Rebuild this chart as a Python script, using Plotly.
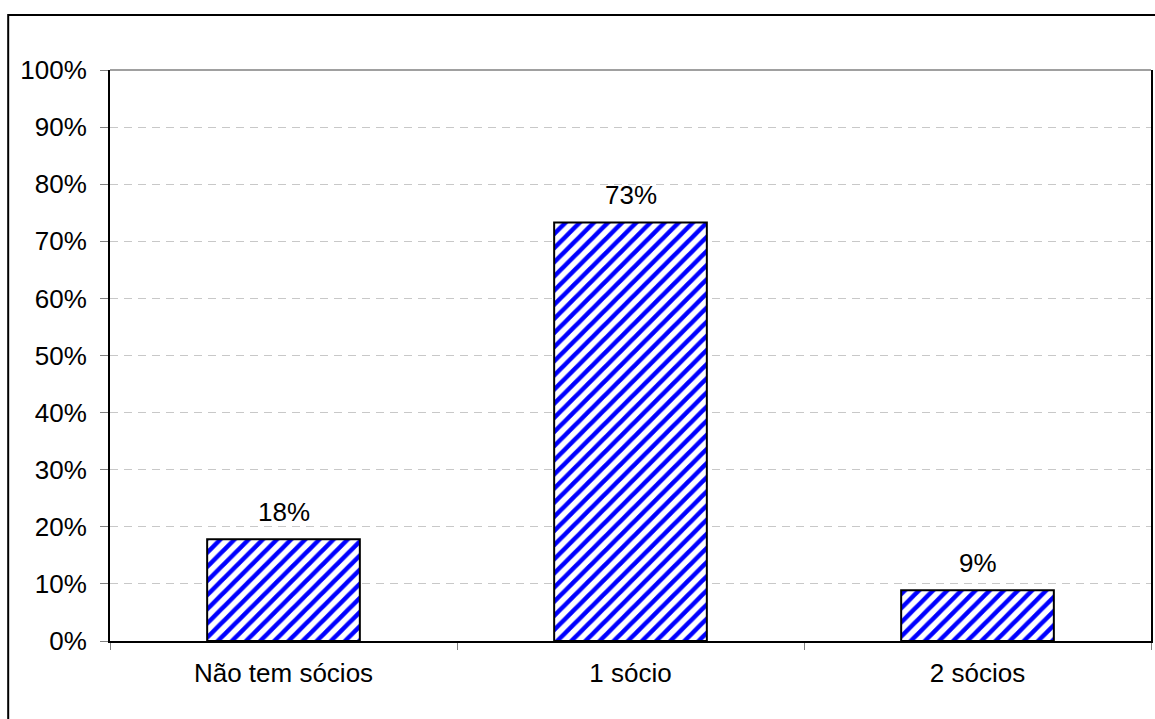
import plotly.graph_objects as go

categories = ["Não tem sócios", "1 sócio", "2 sócios"]
values = [17.8, 73.3, 8.9]
labels = [f"{round(v)}%" for v in values]
y_ticks = list(range(0, 101, 10))
y_ticktext = [f"{t}%" for t in y_ticks]

FONT = "Liberation Sans, Arial, sans-serif"
FS = 26

fig = go.Figure()
fig.add_trace(go.Bar(
    x=categories, y=values, width=0.44,
    marker=dict(
        color="white",
        line=dict(color="black", width=2),
        pattern=dict(shape="/", fgcolor="#0000ff", bgcolor="white", fgopacity=1,
                     size=10, solidity=0.45),
    ),
    hoverinfo="skip",
))

for c, v, t in zip(categories, values, labels):
    fig.add_annotation(x=c, y=v, text=t, showarrow=False, yanchor="bottom",
                       yshift=10, font=dict(family=FONT, size=FS, color="black"))

# outer frame
fig.add_shape(type="rect", xref="paper", yref="paper",
              x0=(8 - 110) / 1043, x1=(1170 - 110) / 1043,
              y0=(641 - 730) / 571, y1=(641 - 15) / 571,
              line=dict(color="black", width=2), layer="below")
# top border of plot area (gray)
fig.add_shape(type="line", xref="paper", yref="paper", x0=0, x1=1, y0=1, y1=1,
              line=dict(color="#a0a0a0", width=2))

fig.update_layout(
    width=1155, height=719,
    margin=dict(l=110, r=2, t=70, b=78),
    paper_bgcolor="white", plot_bgcolor="white",
    showlegend=False,
    font=dict(family=FONT, size=FS, color="black"),
    xaxis=dict(
        type="category", range=[-0.5, 2.5],
        showline=True, linecolor="black", linewidth=2,
        ticks="outside", tickson="boundaries", ticklen=7, tickcolor="#808080", tickwidth=1,
        showgrid=False, ticklabelstandoff=8,
        tickfont=dict(family=FONT, size=FS, color="black"),
    ),
    yaxis=dict(
        range=[0, 100], tickvals=y_ticks, ticktext=y_ticktext,
        showline=True, linecolor="black", linewidth=2, mirror=True,
        ticks="outside", ticklen=8, tickcolor="#808080", tickwidth=1,
        showgrid=True, gridcolor="#c8c8c8", gridwidth=1, griddash="8px,6px",
        zeroline=False, ticklabelstandoff=8,
        tickfont=dict(family=FONT, size=FS, color="black"),
    ),
)

fig.write_html("out.html")
